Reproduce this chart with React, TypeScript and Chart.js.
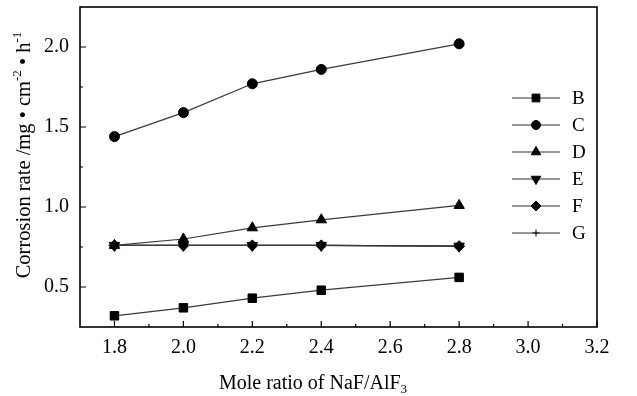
import React, { useEffect, useRef } from "react";
import { Chart, registerables } from "chart.js";
import { drawPoint } from "chart.js/helpers";

Chart.register(...registerables);

const xValues = [1.8, 2.0, 2.2, 2.4, 2.8];
const seriesB = [0.32, 0.37, 0.43, 0.48, 0.56];
const seriesC = [1.44, 1.59, 1.77, 1.86, 2.02];
const seriesD = [0.76, 0.8, 0.87, 0.92, 1.01];
const seriesE = [0.76, 0.76, 0.76, 0.76, 0.755];
const seriesF = [0.76, 0.76, 0.76, 0.76, 0.755];
const seriesG = [0.76, 0.76, 0.76, 0.76, 0.755];
const seriesNames = ["B", "C", "D", "E", "F", "G"];
const xTickValues = [1.8, 2.0, 2.2, 2.4, 2.6, 2.8, 3.0, 3.2];
const xMinorValues = [1.9, 2.1, 2.3, 2.5, 2.7, 2.9, 3.1];
const yTickValues = [0.5, 1.0, 1.5, 2.0];
const yMinorValues = [0.75, 1.25, 1.75];

const FONT = '"Liberation Serif", "Times New Roman", serif';

const styles = [
  { pointStyle: "rect", radius: 6, rotation: 0 },
  { pointStyle: "circle", radius: 5, rotation: 0 },
  { pointStyle: "triangle", radius: 6, rotation: 0 },
  { pointStyle: "triangle", radius: 6, rotation: 180 },
  { pointStyle: "rectRot", radius: 5.5, rotation: 0 },
  { pointStyle: "cross", radius: 4, rotation: 0 },
];

const decorPlugin = {
  id: "decor",
  afterDraw(chart: any) {
    const ctx = chart.ctx;
    const a = chart.chartArea;
    const xs = chart.scales.x;
    const ys = chart.scales.y;
    ctx.save();
    // frame
    ctx.strokeStyle = "#000";
    ctx.lineWidth = 1.6;
    ctx.strokeRect(a.left, a.top, a.right - a.left, a.bottom - a.top);
    // ticks
    ctx.lineWidth = 1.2;
    ctx.beginPath();
    xTickValues.forEach((v) => {
      const px = xs.getPixelForValue(v);
      ctx.moveTo(px, a.bottom);
      ctx.lineTo(px, a.bottom - 6);
    });
    xMinorValues.forEach((v) => {
      const px = xs.getPixelForValue(v);
      ctx.moveTo(px, a.bottom);
      ctx.lineTo(px, a.bottom - 3);
    });
    yTickValues.forEach((v) => {
      const py = ys.getPixelForValue(v);
      ctx.moveTo(a.left, py);
      ctx.lineTo(a.left + 6, py);
    });
    yMinorValues.forEach((v) => {
      const py = ys.getPixelForValue(v);
      ctx.moveTo(a.left, py);
      ctx.lineTo(a.left + 3, py);
    });
    ctx.stroke();

    // legend
    const legX0 = 512;
    const legX1 = 560;
    const legY0 = 98;
    const legStep = 27;
    ctx.textAlign = "left";
    ctx.textBaseline = "middle";
    ctx.font = `19px ${FONT}`;
    seriesNames.forEach((name, i) => {
      const y = legY0 + i * legStep;
      ctx.strokeStyle = "#333";
      ctx.lineWidth = 1.2;
      ctx.beginPath();
      ctx.moveTo(legX0, y);
      ctx.lineTo(legX1, y);
      ctx.stroke();
      const s = styles[i];
      ctx.fillStyle = "#000";
      ctx.strokeStyle = "#000";
      ctx.lineWidth = 1;
      drawPoint(
        ctx,
        {
          pointStyle: s.pointStyle,
          radius: s.radius - 0.5,
          rotation: s.rotation,
          borderWidth: 1,
        } as any,
        (legX0 + legX1) / 2,
        y
      );
      ctx.fillStyle = "#000";
      ctx.fillText(name, 572, y + 1);
    });

    // x title
    ctx.fillStyle = "#000";
    ctx.textBaseline = "alphabetic";
    const mainX = "Mole ratio of NaF/AlF";
    ctx.font = `20px ${FONT}`;
    const wMain = ctx.measureText(mainX).width;
    ctx.font = `13px ${FONT}`;
    const wSub = ctx.measureText("3").width;
    const startX = 313 - (wMain + wSub) / 2;
    ctx.font = `20px ${FONT}`;
    ctx.fillText(mainX, startX, 389);
    ctx.font = `13px ${FONT}`;
    ctx.fillText("3", startX + wMain, 393);

    // y title (rotated)
    const parts = [
      { t: "Corrosion rate /mg \u2022 cm", sup: false },
      { t: "-2", sup: true },
      { t: " \u2022 h", sup: false },
      { t: "-1", sup: true },
    ];
    const mainSize = 20.5;
    const supSize = 13;
    let total = 0;
    const widths = parts.map((p) => {
      ctx.font = p.sup ? `${supSize}px ${FONT}` : `${mainSize}px ${FONT}`;
      const w = ctx.measureText(p.t).width;
      total += w;
      return w;
    });
    ctx.translate(23, 155);
    ctx.rotate(-Math.PI / 2);
    ctx.textBaseline = "alphabetic";
    let cx = -total / 2;
    parts.forEach((p, i) => {
      ctx.font = p.sup ? `${supSize}px ${FONT}` : `${mainSize}px ${FONT}`;
      ctx.fillText(p.t, cx, p.sup ? -2 : 7);
      cx += widths[i];
    });
    ctx.restore();
  },
};

export default function App() {
  const ref = useRef<HTMLCanvasElement | null>(null);
  useEffect(() => {
    if (!ref.current) return;
    const all = [seriesB, seriesC, seriesD, seriesE, seriesF, seriesG];
    const datasets = all.map((vals, i) => ({
      label: seriesNames[i],
      data: vals.map((v, j) => ({ x: xValues[j], y: v })),
      borderColor: "#3a3a3a",
      borderWidth: 1.2,
      backgroundColor: "#000",
      pointBackgroundColor: "#000",
      pointBorderColor: "#000",
      pointBorderWidth: 1,
      pointStyle: styles[i].pointStyle,
      pointRadius: styles[i].radius,
      pointRotation: styles[i].rotation,
      showLine: true,
      fill: false,
      tension: 0,
    }));
    const chart = new Chart(ref.current, {
      type: "scatter",
      data: { datasets } as any,
      options: {
        animation: false,
        responsive: false,
        maintainAspectRatio: false,
        layout: { padding: { top: 5, right: 40, left: 0, bottom: 0 } },
        plugins: { legend: { display: false }, tooltip: { enabled: false } },
        scales: {
          x: {
            type: "linear",
            min: 1.7,
            max: 3.2,
            grid: { display: false, drawTicks: false },
            border: { display: false },
            afterBuildTicks: (s: any) => {
              s.ticks = xTickValues.map((v) => ({ value: v }));
            },
            afterFit: (s: any) => {
              s.height = 69;
              s.paddingLeft = 0;
              s.paddingRight = 0;
            },
            ticks: {
              autoSkip: false,
              maxRotation: 0,
              padding: 9,
              color: "#000",
              font: { family: FONT, size: 20 },
              callback: (v: any) => Number(v).toFixed(1),
            },
          },
          y: {
            type: "linear",
            min: 0.25,
            max: 2.25,
            grid: { display: false, drawTicks: false },
            border: { display: false },
            afterBuildTicks: (s: any) => {
              s.ticks = yTickValues.map((v) => ({ value: v }));
            },
            afterFit: (s: any) => {
              s.width = 80;
              s.paddingTop = 0;
              s.paddingBottom = 0;
            },
            ticks: {
              padding: 11,
              color: "#000",
              font: { family: FONT, size: 20 },
              callback: (v: any) => Number(v).toFixed(1),
            },
          },
        },
      } as any,
      plugins: [decorPlugin],
    });
    return () => chart.destroy();
  }, []);
  return (
    <div style={{ position: "fixed", left: 0, top: 0, width: 637, height: 396, background: "#fff" }}>
      <canvas ref={ref} width={637} height={396} style={{ width: 637, height: 396, display: "block" }} />
    </div>
  );
}
